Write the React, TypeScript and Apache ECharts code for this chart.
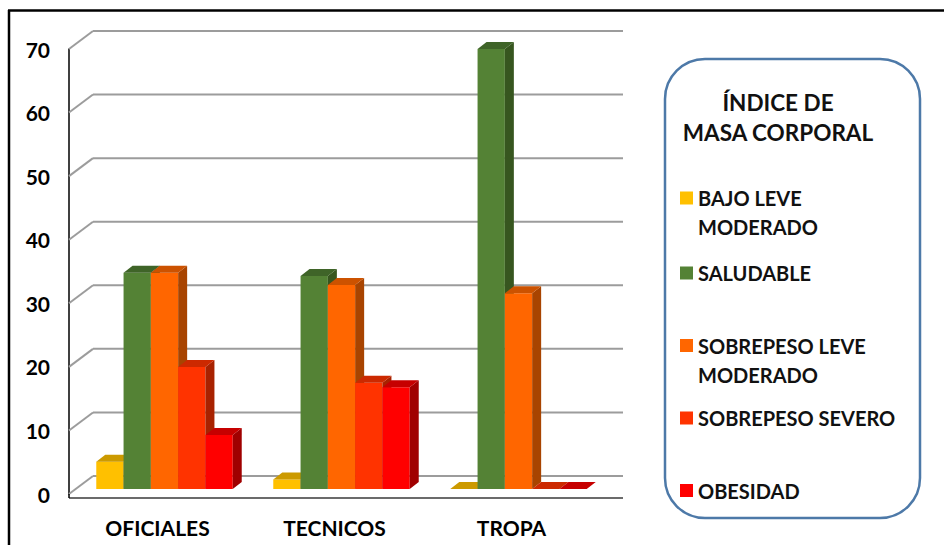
import React, { useEffect, useRef } from "react";
import * as echarts from "echarts";

// Categories and percentages per BMI class
const categories = ["OFICIALES", "TECNICOS", "TROPA"];
const seriesNames = [
  "BAJO LEVE MODERADO",
  "SALUDABLE",
  "SOBREPESO LEVE MODERADO",
  "SOBREPESO SEVERO",
  "OBESIDAD",
];
const legendLabels = [
  "BAJO LEVE\nMODERADO",
  "SALUDABLE",
  "SOBREPESO LEVE\nMODERADO",
  "SOBREPESO SEVERO",
  "OBESIDAD",
];
const bajoLeve = [4.3, 1.5, 0];
const saludable = [34.0, 33.5, 69.2];
const sobrepesoLeve = [34.0, 32.1, 30.8];
const sobrepesoSevero = [19.2, 16.7, 0];
const obesidad = [8.5, 16.0, 0];
const yTicks = [0, 10, 20, 30, 40, 50, 60, 70];

const seriesValues = [bajoLeve, saludable, sobrepesoLeve, sobrepesoSevero, obesidad];

// face colours: front, top, right side
const frontColors = ["#FFC000", "#548235", "#FF6600", "#FF3300", "#FF0000"];
const topColors = ["#CC9A00", "#3F6428", "#CC5200", "#CC2900", "#C60000"];
const sideColors = ["#A67C00", "#37561F", "#A84400", "#A82200", "#A00000"];

// perspective offsets
const WALL_DX = 24;
const WALL_DY = -18;
const BAR_DX = 9;
const BAR_DY = -7;
const GROUP_FILL = 0.771;

const FONT = "Lato, 'Open Sans', sans-serif";

export default function App() {
  const ref = useRef<HTMLDivElement>(null);

  useEffect(() => {
    if (!ref.current) return;
    const chart = echarts.init(ref.current, null, { renderer: "svg" });

    const wallSeries = {
      type: "custom",
      name: "wall",
      xAxisIndex: 0,
      yAxisIndex: 0,
      z: 1,
      silent: true,
      clip: false,
      data: yTicks.map((v) => [0, v]),
      renderItem: (params: any, api: any) => {
        const v = api.value(1);
        const p = api.coord([0, v]);
        const cs = params.coordSys;
        const x0 = cs.x;
        const y = p[1];
        const xEnd = x0 + cs.width + WALL_DX - 1;
        const grid = { stroke: "#9C9C9C", lineWidth: 2 };
        const children: any[] = [
          {
            type: "line",
            shape: { x1: x0, y1: y, x2: x0 + WALL_DX, y2: y + WALL_DY },
            style: grid,
          },
          {
            type: "line",
            shape: { x1: x0 + WALL_DX, y1: y + WALL_DY, x2: xEnd, y2: y + WALL_DY },
            style: grid,
          },
        ];
        if (v === 0) {
          children.push(
            {
              type: "line",
              shape: { x1: x0, y1: y + 4, x2: xEnd, y2: y + 4 },
              style: { stroke: "#3A3A3A", lineWidth: 1.5 },
            },
            {
              type: "line",
              shape: { x1: x0, y1: y, x2: x0, y2: y + 4 },
              style: { stroke: "#000", lineWidth: 1.5 },
            }
          );
        }
        return { type: "group", children };
      },
    };

    const barSeries = seriesNames.map((name, i) => ({
      type: "custom",
      name,
      xAxisIndex: 1,
      yAxisIndex: 1,
      z: 2,
      clip: false,
      itemStyle: { color: frontColors[i] },
      data: categories.map((_, c) => [c, seriesValues[i][c]]),
      renderItem: (_params: any, api: any) => {
        const c = api.value(0);
        const v = api.value(1);
        const top = api.coord([c, v]);
        const base = api.coord([c, 0]);
        const band = api.size([1, 0])[0];
        const bw = (band * GROUP_FILL) / seriesNames.length;
        const xl = top[0] - (seriesNames.length / 2) * bw + i * bw;
        const xr = xl + bw;
        const yt = top[1];
        const yb = base[1];
        return {
          type: "group",
          children: [
            {
              type: "polygon",
              shape: { points: [[xl, yb], [xr, yb], [xr, yt], [xl, yt]] },
              style: { fill: frontColors[i] },
            },
            {
              type: "polygon",
              shape: {
                points: [
                  [xr, yb],
                  [xr + BAR_DX, yb + BAR_DY],
                  [xr + BAR_DX, yt + BAR_DY],
                  [xr, yt],
                ],
              },
              style: { fill: sideColors[i] },
            },
            {
              type: "polygon",
              shape: {
                points: [
                  [xl, yt],
                  [xr, yt],
                  [xr + BAR_DX, yt + BAR_DY],
                  [xl + BAR_DX, yt + BAR_DY],
                ],
              },
              style: { fill: topColors[i] },
            },
          ],
        };
      },
    }));

    // icon centres of each legend entry
    const legendCenters = [198, 273, 345.5, 418, 490.5];
    const LINE_H = 29;
    const legends = seriesNames.map((name, i) => {
      const label = legendLabels[i];
      const twoLine = label.includes("\n");
      const text = twoLine ? "\n" + label : label;
      const lines = twoLine ? 3 : 1;
      return {
        data: [{ name, icon: "rect", itemStyle: { color: frontColors[i] } }],
        orient: "vertical",
        left: 680,
        top: legendCenters[i] - (lines * LINE_H) / 2,
        padding: 0,
        itemWidth: 13,
        itemHeight: 13,
        selectedMode: false,
        formatter: () => text,
        textStyle: {
          fontFamily: FONT,
          fontWeight: "bold",
          fontSize: 20,
          color: "#111",
          lineHeight: LINE_H,
        },
      };
    });

    const option = {
      animation: false,
      backgroundColor: "#FFFFFF",
      grid: [
        { left: 69, top: 49, width: 531, height: 445 },
        { left: 76, top: 44, width: 531, height: 445 },
      ],
      xAxis: [
        {
          type: "category",
          gridIndex: 0,
          data: categories,
          axisLine: { show: false },
          axisTick: { show: false },
          axisLabel: {
            margin: 23,
            fontFamily: FONT,
            fontWeight: "bold",
            fontSize: 21,
            color: "#000",
          },
        },
        { type: "category", gridIndex: 1, data: categories, show: false },
      ],
      yAxis: [
        {
          type: "value",
          gridIndex: 0,
          min: 0,
          max: 70,
          interval: 10,
          axisLine: { show: true, lineStyle: { color: "#000", width: 1.5 } },
          axisTick: { show: false },
          splitLine: { show: false },
          axisLabel: {
            margin: 19,
            fontFamily: FONT,
            fontWeight: "bold",
            fontSize: 21,
            color: "#000",
          },
        },
        { type: "value", gridIndex: 1, min: 0, max: 70, interval: 10, show: false },
      ],
      legend: legends,
      graphic: [
        {
          type: "line",
          shape: { x1: 8, y1: 10.5, x2: 944, y2: 10.5 },
          style: { stroke: "#000", lineWidth: 2.5 },
          silent: true,
        },
        {
          type: "line",
          shape: { x1: 9, y1: 10, x2: 9, y2: 545 },
          style: { stroke: "#000", lineWidth: 2.5 },
          silent: true,
        },
        {
          type: "rect",
          shape: { x: 665, y: 59, width: 255, height: 459, r: 40 },
          style: { fill: "none", stroke: "#4D79A8", lineWidth: 2.5 },
          silent: true,
          z: -1,
        },
        {
          type: "text",
          x: 778,
          y: 117.5,
          style: {
            text: "ÍNDICE DE\nMASA CORPORAL",
            fontFamily: FONT,
            fontWeight: "bold",
            fontSize: 22.5,
            lineHeight: 30,
            fill: "#111",
            textAlign: "center",
            textVerticalAlign: "middle",
          },
          silent: true,
        },
      ],
      series: [wallSeries, ...barSeries],
    };

    chart.setOption(option as any);
    return () => chart.dispose();
  }, []);

  return (
    <div
      ref={ref}
      style={{
        position: "fixed",
        left: 0,
        top: 0,
        width: 944,
        height: 545,
        background: "#fff",
      }}
    />
  );
}
